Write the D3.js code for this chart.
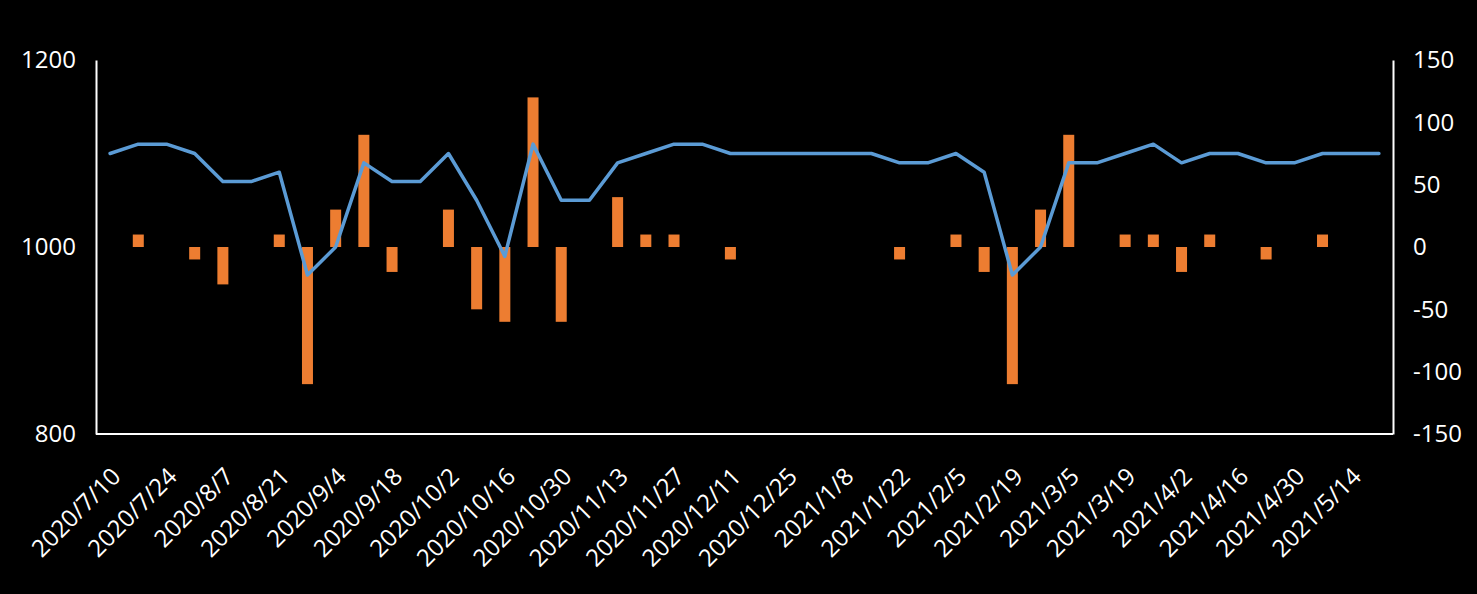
<!DOCTYPE html>
<html><head><meta charset="utf-8">
<script src="https://cdn.jsdelivr.net/npm/d3@7"></script>
<style>html,body{margin:0;padding:0;background:#000;}svg{display:block;}</style>
</head><body>
<script>
const dates = ["2020/7/10","2020/7/17","2020/7/24","2020/7/31","2020/8/7","2020/8/14","2020/8/21","2020/8/28",
  "2020/9/4","2020/9/11","2020/9/18","2020/9/25","2020/10/2","2020/10/9","2020/10/16","2020/10/23","2020/10/30",
  "2020/11/6","2020/11/13","2020/11/20","2020/11/27","2020/12/4","2020/12/11","2020/12/18","2020/12/25",
  "2021/1/1","2021/1/8","2021/1/15","2021/1/22","2021/1/29","2021/2/5","2021/2/12","2021/2/19","2021/2/26",
  "2021/3/5","2021/3/12","2021/3/19","2021/3/26","2021/4/2","2021/4/9","2021/4/16","2021/4/23","2021/4/30",
  "2021/5/7","2021/5/14","2021/5/21"];
const priceValues = [1100,1110,1110,1100,1070,1070,1080,970,1000,1090,1070,1070,1100,1050,990,1110,1050,1050,1090,1100,1110,1110,1100,1100,1100,1100,1100,1100,1090,1090,1100,1080,970,1000,1090,1090,1100,1110,1090,1100,1100,1090,1090,1100,1100,1100];
const changeValues = [null,10,0,-10,-30,0,10,-110,30,90,-20,0,30,-50,-60,120,-60,0,40,10,10,0,-10,0,0,0,0,0,-10,0,10,-20,-110,30,90,0,10,10,-20,10,0,-10,0,10,0,0];
const leftTicks = [800,1000,1200];
const rightTicks = [-150,-100,-50,0,50,100,150];

const W=1477,H=594;
const m={left:96,right:1393,top:60,bottom:434};
const svg=d3.select("body").append("svg").attr("width",W).attr("height",H).style("background","#000");
const x=d3.scaleBand().domain(dates).range([m.left,m.right]).paddingInner(0).paddingOuter(0);
const yL=d3.scaleLinear().domain([800,1200]).range([m.bottom,m.top]);
const yR=d3.scaleLinear().domain([-150,150]).range([m.bottom,m.top]);
const font="'Open Sans', sans-serif";
const bw=11;

svg.append("g").selectAll("rect").data(dates.map((d,i)=>({d,v:changeValues[i]})).filter(o=>o.v)).join("rect")
  .attr("x",o=>x(o.d)+x.bandwidth()/2-bw/2)
  .attr("width",bw)
  .attr("y",o=>yR(Math.max(0,o.v)))
  .attr("height",o=>Math.abs(yR(o.v)-yR(0)))
  .attr("fill","#ED7D31");

const line=d3.line().x((v,i)=>x(dates[i])+x.bandwidth()/2).y(v=>yL(v));
svg.append("path").datum(priceValues).attr("d",line).attr("fill","none")
  .attr("stroke","#5B9BD5").attr("stroke-width",3.5).attr("stroke-linejoin","round").attr("stroke-linecap","round");

// axes
const gl=svg.append("g").attr("transform",`translate(${m.left},0)`)
  .call(d3.axisLeft(yL).tickValues(leftTicks).tickSize(0).tickPadding(20).tickFormat(d=>String(d)));
const gr=svg.append("g").attr("transform",`translate(${m.right},0)`)
  .call(d3.axisRight(yR).tickValues(rightTicks).tickSize(0).tickPadding(20).tickFormat(d=>String(d)));
const gb=svg.append("g").attr("transform",`translate(0,${m.bottom})`)
  .call(d3.axisBottom(x).tickValues(dates.filter((d,i)=>i%2===0)).tickSize(0).tickPadding(0));
[gl,gr,gb].forEach(g=>{
  g.select(".domain").attr("stroke","#fff").attr("stroke-width",2);
  g.selectAll("text").attr("fill","#fff").style("font-family",font).style("font-size","24px");
});
gb.select(".domain").attr("d",`M${m.left},0H${m.right}`);
gb.selectAll("text").attr("text-anchor","end").attr("dy","0").attr("y",0)
  .attr("transform","translate(12,44) rotate(-45)");
</script>
</body></html>
